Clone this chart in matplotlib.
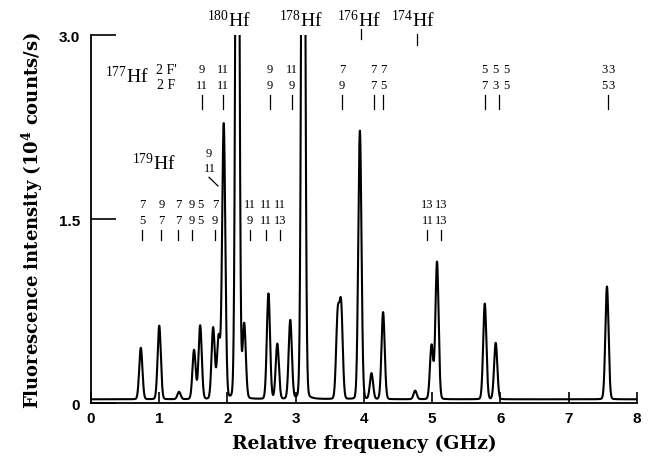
import numpy as np
import matplotlib
matplotlib.use('Agg')
import matplotlib.pyplot as plt

plt.rcParams['font.family'] = 'Liberation Serif'
plt.rcParams['mathtext.default'] = 'regular'

# peak list (GHz, 10^4 counts/s above baseline)
peak_pos = [0.73, 1.00, 1.29, 1.51, 1.60, 1.79, 1.87, 1.945, 2.145, 2.245, 2.60, 2.73, 2.92,
            3.11, 3.615, 3.665, 3.94, 4.11, 4.28, 4.75, 4.99, 5.07, 5.77, 5.93, 7.56]
peak_height = [0.42, 0.60, 0.06, 0.40, 0.60, 0.58, 0.50, 2.24, 8.0, 0.60, 0.86, 0.45, 0.64,
               8.0, 0.67, 0.74, 2.19, 0.21, 0.71, 0.07, 0.44, 1.12, 0.78, 0.46, 0.92]
baseline = 0.03

# isotope labels
iso_names = ['180', '178', '176', '174']
iso_label_x = [2.02, 3.07, 3.93, 4.71]
iso_mark_x = [3.95, 4.77]

# 177Hf hyperfine components (F', F)
hf177_x = [1.63, 1.94, 2.62, 2.94, 3.68, 4.14, 4.28, 5.77, 5.93, 6.09, 7.52, 7.63]
hf177_up = ['9', '11', '9', '11', '7', '7', '7', '5', '5', '5', '3', '3']
hf177_lo = ['11', '11', '9', '9', '9', '7', '5', '7', '3', '5', '5', '3']
hf177_marks = [1.63, 1.94, 2.62, 2.94, 3.68, 4.14, 4.28, 5.78, 5.98, 7.57]

# 179Hf hyperfine components
hf179_x = [0.75, 1.03, 1.28, 1.48, 1.60, 1.82, 2.33, 2.57, 2.77, 4.93, 5.13]
hf179_up = ['7', '9', '7', '9', '5', '7', '11', '11', '11', '13', '13']
hf179_lo = ['5', '7', '7', '9', '5', '9', '9', '11', '13', '11', '13']
hf179_marks = [0.75, 1.03, 1.28, 1.48, 1.82, 2.33, 2.57, 2.77, 4.93, 5.13]

# build trace from the peak list (mostly gaussian line shape, small lorentz wings)
freq = np.linspace(0, 8, 6000)
fwhm = 0.055
sig = fwhm / 2.355
gam = fwhm / 2
signal = np.full_like(freq, baseline)
for c, h in zip(peak_pos, peak_height):
    g = np.exp(-0.5 * ((freq - c) / sig) ** 2)
    l = gam ** 2 / ((freq - c) ** 2 + gam ** 2)
    signal += h * (0.96 * g + 0.04 * l)

fig = plt.figure(figsize=(6.48, 4.64), dpi=100)
ax = fig.add_axes([0.1404, 0.1293, 0.8426, 0.793])
ax.plot(freq, signal, color='black', linewidth=1.5)
ax.set_xlim(0, 8)
ax.set_ylim(0, 3.0)

ax.spines['top'].set_visible(False)
ax.spines['right'].set_visible(False)
ax.spines['left'].set_linewidth(1.3)
ax.spines['bottom'].set_linewidth(1.3)
ax.set_xticks(range(9))
ax.set_yticks([0, 1.5, 3.0])
ax.set_yticklabels(['0', '1.5', '3.0'])
ax.tick_params(axis='x', direction='in', length=8, width=1.2, pad=6)
ax.tick_params(axis='y', direction='in', length=18, width=1.2, pad=8)
for lab in ax.get_xticklabels() + ax.get_yticklabels():
    lab.set_fontfamily('Liberation Sans')
    lab.set_fontweight('bold')
    lab.set_fontsize(11)

ax.set_xlabel('Relative frequency (GHz)', fontsize=13.5, fontweight='bold',
              fontfamily='DejaVu Serif', labelpad=6)
ax.set_ylabel('Fluorescence intensity (10$^4$ counts/s)', fontsize=13, fontweight='bold',
              fontfamily='DejaVu Serif', labelpad=10)

# isotope labels above the plot
for name, x in zip(iso_names, iso_label_x):
    ax.text(x, 3.13, '$^{' + name + '}$Hf', fontsize=14, ha='center', va='center', clip_on=False)
ax.plot([iso_mark_x[0]] * 2, [2.97, 3.05], color='black', lw=0.9, clip_on=False)
ax.plot([iso_mark_x[1]] * 2, [2.92, 3.01], color='black', lw=0.9, clip_on=False)

# 177Hf block
ax.text(0.53, 2.67, '$^{177}$Hf', fontsize=14, ha='center', va='center')
ax.text(1.10, 2.72, "2 F'", fontsize=10, ha='center', va='center')
ax.text(1.10, 2.60, '2 F', fontsize=10, ha='center', va='center')
for x, u, d in zip(hf177_x, hf177_up, hf177_lo):
    ax.text(x, 2.72, u, fontsize=9, ha='center', va='center')
    ax.text(x, 2.59, d, fontsize=9, ha='center', va='center')
for x in hf177_marks:
    ax.plot([x, x], [2.40, 2.51], color='black', lw=0.9)

# 179Hf block
ax.text(0.92, 1.96, '$^{179}$Hf', fontsize=14, ha='center', va='center')
ax.text(1.73, 2.04, '9', fontsize=9, ha='center', va='center')
ax.text(1.74, 1.92, '11', fontsize=9, ha='center', va='center')
ax.plot([1.73, 1.86], [1.84, 1.77], color='black', lw=0.9)
for x, u, d in zip(hf179_x, hf179_up, hf179_lo):
    ax.text(x, 1.62, u, fontsize=9, ha='center', va='center')
    ax.text(x, 1.49, d, fontsize=9, ha='center', va='center')
for x in hf179_marks:
    ax.plot([x, x], [1.33, 1.41], color='black', lw=0.9)

fig.savefig('out.png', dpi=100)
